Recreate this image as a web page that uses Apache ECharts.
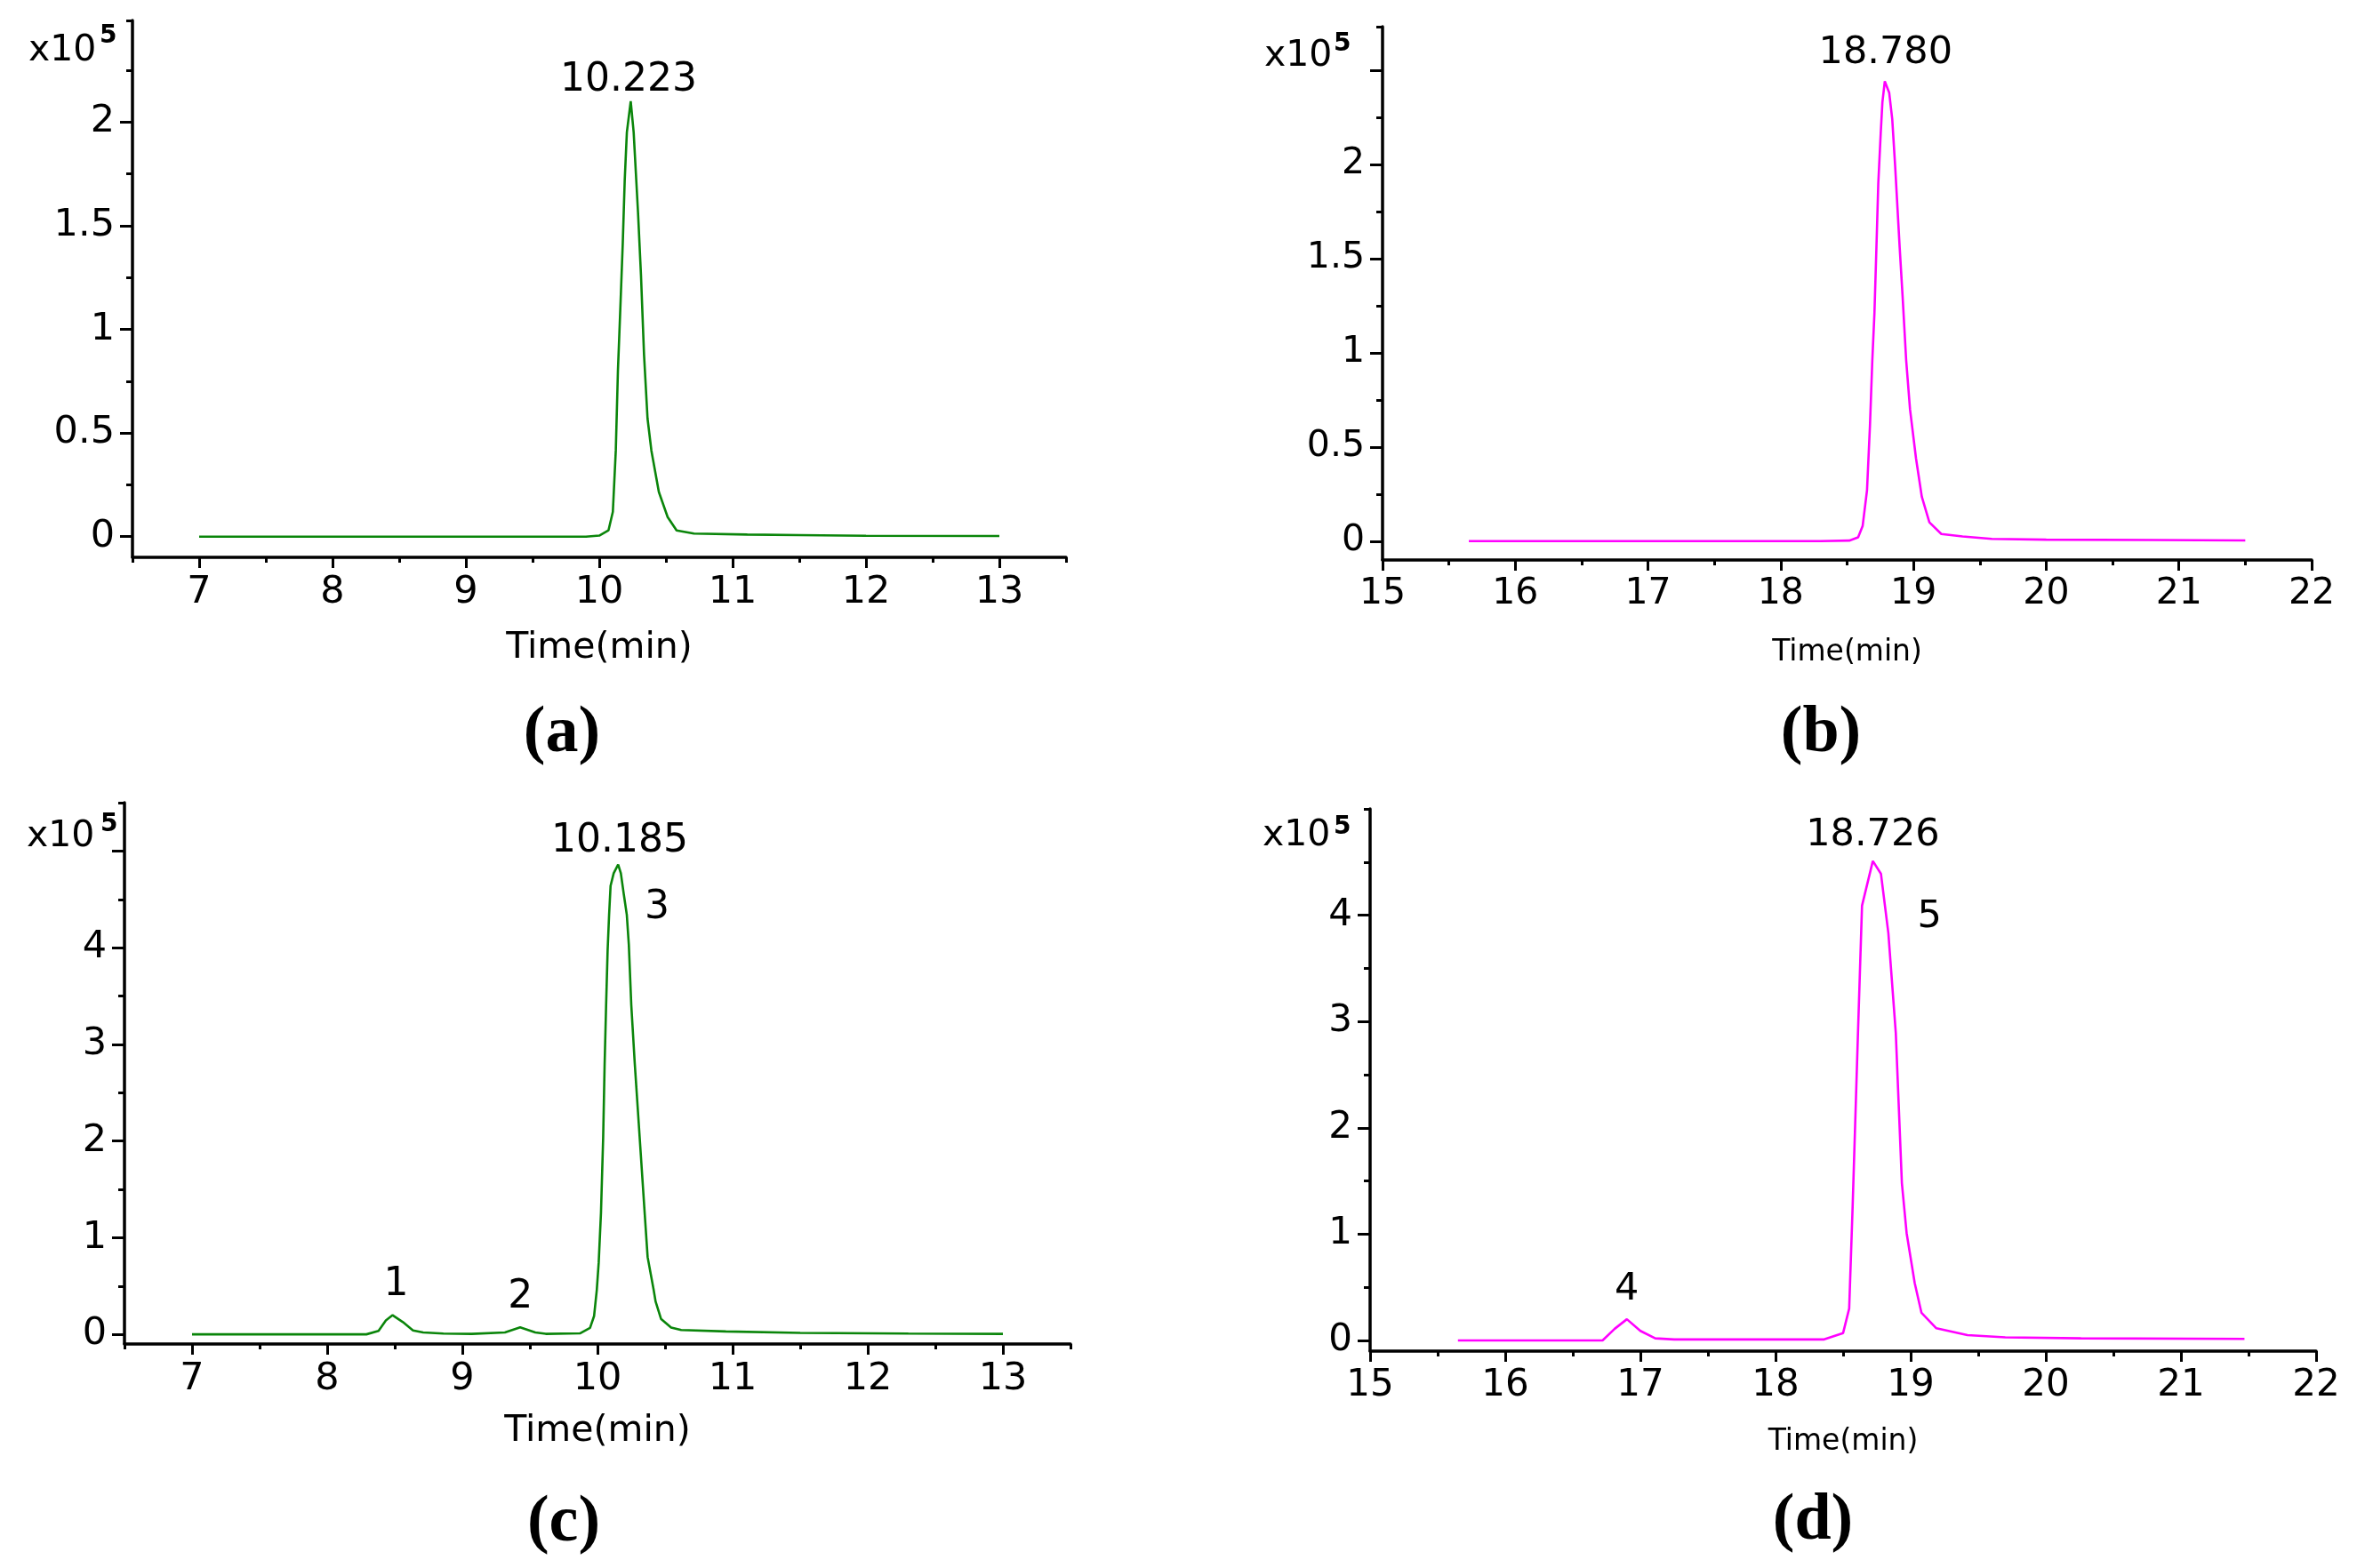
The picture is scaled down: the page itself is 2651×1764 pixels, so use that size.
<!DOCTYPE html>
<html>
<head>
<meta charset="utf-8">
<title>Chromatograms</title>
<script src="https://cdn.jsdelivr.net/npm/echarts@6/dist/echarts.min.js"></script>
<style>
  html, body { margin: 0; padding: 0; background: #fff; }
  #chart { width: 2651px; height: 1764px; }
</style>
</head>
<body>
<div id="chart"></div>
<script>
// values in units of 10^5, time in minutes

// (a) standard, first compound
const timeA = [7.0, 9.9, 10.0, 10.069, 10.102, 10.124, 10.14, 10.158, 10.176, 10.191, 10.207, 10.236,
  10.258, 10.291, 10.313, 10.336, 10.362, 10.391, 10.447, 10.513, 10.58, 10.71, 11.11, 11.5, 12.0, 13.0];
const signalA = [0, 0, 0.005, 0.03, 0.12, 0.415, 0.80, 1.10, 1.41, 1.72, 1.95, 2.10,
  1.95, 1.56, 1.26, 0.875, 0.57, 0.415, 0.215, 0.094, 0.03, 0.015, 0.01, 0.007, 0.004, 0.003];

// (b) standard, second compound
const timeB = [15.65, 18.3, 18.516, 18.583, 18.617, 18.65, 18.672, 18.69, 18.706, 18.721, 18.735, 18.753,
  18.766, 18.784, 18.817, 18.84, 18.862, 18.896, 18.918, 18.945, 18.974, 19.019, 19.063, 19.12, 19.21,
  19.37, 19.59, 20.0, 20.8, 21.5];
const signalB = [0, 0, 0.003, 0.02, 0.08, 0.27, 0.61, 0.96, 1.21, 1.56, 1.90, 2.16,
  2.33, 2.44, 2.38, 2.24, 1.99, 1.56, 1.30, 0.96, 0.70, 0.44, 0.235, 0.10, 0.038,
  0.025, 0.012, 0.008, 0.006, 0.004];

// (c) sample, peaks 1-3
const timeC = [7.0, 8.29, 8.38, 8.434, 8.484, 8.56, 8.635, 8.71, 8.86, 9.07, 9.315, 9.428, 9.54, 9.617,
  9.87, 9.945, 9.975, 9.995, 10.009, 10.026, 10.042, 10.053, 10.064, 10.075, 10.086, 10.097, 10.12,
  10.153, 10.173, 10.195, 10.217, 10.232, 10.25, 10.276, 10.305, 10.327, 10.349, 10.371, 10.415,
  10.43, 10.47, 10.545, 10.62, 10.95, 11.5, 12.3, 13.0];
const signalC = [0, 0, 0.035, 0.143, 0.198, 0.127, 0.041, 0.02, 0.008, 0.005, 0.02, 0.072, 0.02, 0.005,
  0.01, 0.066, 0.19, 0.46, 0.74, 1.26, 2.03, 2.80, 3.41, 3.97, 4.34, 4.64, 4.77,
  4.86, 4.77, 4.55, 4.34, 4.03, 3.41, 2.80, 2.19, 1.725, 1.26, 0.80, 0.465,
  0.34, 0.16, 0.07, 0.045, 0.03, 0.015, 0.008, 0.005];

// (d) sample, peaks 4-5
const timeD = [15.65, 16.72, 16.81, 16.90, 17.0, 17.11, 17.25, 18.36, 18.50, 18.545, 18.57, 18.61, 18.64,
  18.72, 18.78, 18.835, 18.89, 18.935, 18.97, 19.03, 19.08, 19.19, 19.42, 19.70, 20.26, 21.47];
const signalD = [0, 0, 0.11, 0.2, 0.09, 0.02, 0.01, 0.01, 0.07, 0.30, 1.24, 2.89, 4.09,
  4.51, 4.39, 3.83, 2.89, 1.48, 1.01, 0.54, 0.26, 0.115, 0.05, 0.03, 0.02, 0.015];

// peak annotations: text centred at (time, signal)
const notesA = [{ text: '10.223', t: 10.22, v: 2.20 }];
const notesB = [{ text: '18.780', t: 18.79, v: 2.59 }];
const notesC = [
  { text: '10.185', t: 10.165, v: 5.10 },
  { text: '3', t: 10.44, v: 4.41 },
  { text: '1', t: 8.51, v: 0.51 },
  { text: '2', t: 9.43, v: 0.38 },
];
const notesD = [
  { text: '18.726', t: 18.72, v: 4.75 },
  { text: '5', t: 19.14, v: 3.98 },
  { text: '4', t: 16.90, v: 0.48 },
];

// axis ticks
const xMajorAC = [7, 8, 9, 10, 11, 12, 13];
const xMinorAC = [6.5, 7.5, 8.5, 9.5, 10.5, 11.5, 12.5, 13.5];
const xMajorBD = [15, 16, 17, 18, 19, 20, 21, 22];
const xMinorBD = [15.5, 16.5, 17.5, 18.5, 19.5, 20.5, 21.5];

const yMajorA = [0, 0.5, 1, 1.5, 2];
const yMinorA = [0.25, 0.75, 1.25, 1.75, 2.25, 2.49];
const yLabelA = [0, 0.5, 1, 1.5, 2];
const yMajorB = [0, 0.5, 1, 1.5, 2, 2.5];
const yMinorB = [0.25, 0.75, 1.25, 1.75, 2.25, 2.73];
const yLabelB = [0, 0.5, 1, 1.5, 2];
const yMajorC = [0, 1, 2, 3, 4, 5];
const yMinorC = [0.5, 1.5, 2.5, 3.5, 4.5, 5.5];
const yLabelC = [0, 1, 2, 3, 4];
const yMajorD = [0, 1, 2, 3, 4];
const yMinorD = [0.5, 1.5, 2.5, 3.5, 4.5, 5];
const yLabelD = [0, 1, 2, 3, 4];

const SANS = '"DejaVu Sans", "Liberation Sans", Arial, sans-serif';
const SERIF = '"Liberation Serif", "Times New Roman", serif';
const GREEN = '#0a850a';
const MAGENTA = '#ff00ff';

const panels = [
  {
    grid: { left: 149, top: 23, width: 1050, height: 604 },
    x: [6.5, 13.5], y: [-0.1, 2.49],
    time: timeA, signal: signalA, color: GREEN, notes: notesA,
    xMajor: xMajorAC, xMinor: xMinorAC, yMajor: yMajorA, yMinor: yMinorA, yLabel: yLabelA,
    tickFont: 43, noteFont: 44, nameFont: 41, nameGap: 82,
  },
  {
    grid: { left: 1555, top: 30, width: 1045, height: 600 },
    x: [15, 22], y: [-0.1, 2.73],
    time: timeB, signal: signalB, color: MAGENTA, notes: notesB,
    xMajor: xMajorBD, xMinor: xMinorBD, yMajor: yMajorB, yMinor: yMinorB, yLabel: yLabelB,
    tickFont: 41, noteFont: 43, nameFont: 33, nameGap: 88,
  },
  {
    grid: { left: 140, top: 903, width: 1064, height: 609 },
    x: [6.5, 13.5], y: [-0.1, 5.5],
    time: timeC, signal: signalC, color: GREEN, notes: notesC,
    xMajor: xMajorAC, xMinor: xMinorAC, yMajor: yMajorC, yMinor: yMinorC, yLabel: yLabelC,
    tickFont: 43, noteFont: 44, nameFont: 41, nameGap: 78,
  },
  {
    grid: { left: 1541, top: 910, width: 1064, height: 610 },
    x: [15, 22], y: [-0.1, 5.0],
    time: timeD, signal: signalD, color: MAGENTA, notes: notesD,
    xMajor: xMajorBD, xMinor: xMinorBD, yMajor: yMajorD, yMinor: yMinorD, yLabel: yLabelD,
    tickFont: 42, noteFont: 43, nameFont: 33, nameGap: 86,
  },
];

const grid = [];
const xAxis = [];
const yAxis = [];
const series = [];

const lineStyle = { color: '#000', width: 3.5 };

panels.forEach((p, i) => {
  grid.push(p.grid);

  // major ticks + labels
  xAxis.push({
    type: 'value', gridIndex: i, position: 'bottom', min: p.x[0], max: p.x[1],
    name: 'Time(min)', nameLocation: 'middle', nameGap: p.nameGap,
    nameTextStyle: { fontFamily: SANS, fontSize: p.nameFont, color: '#000' },
    axisLine: { show: true, onZero: false, lineStyle },
    axisTick: { show: true, length: 12, lineStyle: { color: '#000', width: 3 }, customValues: p.xMajor },
    axisLabel: { customValues: p.xMajor, fontFamily: SANS, fontSize: p.tickFont, color: '#000', margin: 18 },
    splitLine: { show: false },
  });
  // minor ticks
  xAxis.push({
    type: 'value', gridIndex: i, position: 'bottom', offset: 0, min: p.x[0], max: p.x[1],
    axisLine: { show: false, onZero: false },
    axisTick: { show: true, length: 6, lineStyle: { color: '#000', width: 3 }, customValues: p.xMinor },
    axisLabel: { show: false },
    splitLine: { show: false },
  });

  yAxis.push({
    type: 'value', gridIndex: i, position: 'left', min: p.y[0], max: p.y[1],
    axisLine: { show: true, onZero: false, lineStyle },
    axisTick: { show: true, length: 14, lineStyle: { color: '#000', width: 3 }, customValues: p.yMajor },
    axisLabel: { customValues: p.yLabel, fontFamily: SANS, fontSize: p.tickFont, color: '#000', margin: 20 },
    splitLine: { show: false },
  });
  yAxis.push({
    type: 'value', gridIndex: i, position: 'left', offset: 0, min: p.y[0], max: p.y[1],
    axisLine: { show: false, onZero: false },
    axisTick: { show: true, length: 7, lineStyle: { color: '#000', width: 3 }, customValues: p.yMinor },
    axisLabel: { show: false },
    splitLine: { show: false },
  });

  series.push({
    type: 'line',
    xAxisIndex: i * 2,
    yAxisIndex: i * 2,
    data: p.time.map((t, k) => [t, p.signal[k]]),
    showSymbol: false,
    symbol: 'none',
    lineStyle: { color: p.color, width: 2.6 },
    silent: true,
    markPoint: {
      symbol: 'circle',
      symbolSize: 1,
      itemStyle: { color: 'rgba(0,0,0,0)' },
      label: {
        show: true, position: 'inside', formatter: '{b}',
        fontFamily: SANS, fontSize: p.noteFont, color: '#000',
      },
      data: p.notes.map((n) => ({ name: n.text, coord: [n.t, n.v] })),
    },
  });
});

// "x10^5" scale marks and the (a)-(d) captions
const scaleMarks = [
  { x: 32, y: 57, sx: 112, sy: 41 },
  { x: 1422, y: 63, sx: 1500, sy: 50 },
  { x: 30, y: 941, sx: 113, sy: 928 },
  { x: 1420, y: 940, sx: 1500, sy: 931 },
];
const captions = [
  { text: '(a)', x: 632, y: 826 },
  { text: '(b)', x: 2048, y: 826 },
  { text: '(c)', x: 634, y: 1714 },
  { text: '(d)', x: 2039, y: 1712 },
];

const graphic = [];
scaleMarks.forEach((m) => {
  graphic.push({
    type: 'text', x: m.x, y: m.y, silent: true,
    style: { text: 'x10', font: `41px ${SANS}`, fill: '#000', align: 'left', verticalAlign: 'middle' },
  });
  graphic.push({
    type: 'text', x: m.sx, y: m.sy, silent: true,
    style: { text: '5', font: `bold 28px ${SANS}`, fill: '#000', align: 'left', verticalAlign: 'middle' },
  });
});
captions.forEach((c) => {
  graphic.push({
    type: 'text', x: c.x, y: c.y, silent: true,
    style: { text: c.text, font: `bold 74px ${SERIF}`, fill: '#000', align: 'center', verticalAlign: 'middle' },
  });
});

const chart = echarts.init(document.getElementById('chart'));
chart.setOption({
  animation: false,
  backgroundColor: '#fff',
  grid,
  xAxis,
  yAxis,
  series,
  graphic,
});
</script>
</body>
</html>
